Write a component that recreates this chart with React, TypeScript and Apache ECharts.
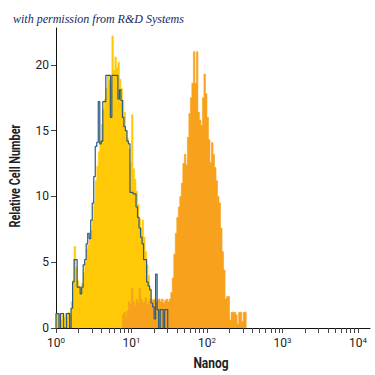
import React, { useEffect, useRef } from "react";
import * as echarts from "echarts";

// histogram channel width, in decades (log10 units)
const BIN = 0.02;

// isotype control (yellow filled)
const YELLOW_START = 0;
const YELLOW = [
  1.1, 1.1, 1.0, 0.6, 1.0, 0.8, 1.1, 0.9, 1.2, 1.0,
  2.0, 3.6, 6.2, 4.6, 3.6, 3.2, 3.0, 3.4, 4.2, 5.0,
  6.0, 6.3, 6.8, 7.4, 8.2, 9.5, 11.2, 12.3, 13.4, 14.2,
  15.5, 16.6, 17.4, 18.2, 19.2, 18.8, 18.4, 22.2, 19.6, 20.6,
  19.8, 20.2, 18.9, 18.2, 17.3, 16.4, 15.0, 14.4, 13.6, 12.6,
  16.2, 12.1, 11.3, 10.4, 9.4, 8.3, 7.6, 8.2, 6.9, 5.8,
  4.8, 4.0, 3.0, 2.2, 1.6, 1.2, 1.0, 0.8,
];

// unstained control (blue outline)
const BLUE_START = 0;
const BLUE = [
  1.1, 1.1, 0, 1.1, 1.1, 0, 0, 1.1, 1.1, 0,
  1.5, 3.5, 5.2, 5.2, 3.1, 3.1, 2.6, 3.1, 4.8, 5.2,
  6.4, 7.2, 6.8, 8.2, 9.5, 11.5, 13.8, 14.1, 17.2, 14.0,
  14.2, 17.2, 17.2, 19.2, 19.2, 19.2, 16.0, 19.2, 19.2, 19.2,
  19.2, 17.4, 18.1, 17.3, 16.0, 15.3, 15.0, 14.2, 14.0, 10.3,
  10.3, 10.2, 10.2, 9.2, 8.4, 7.6, 6.9, 6.4, 5.2, 5.2,
  3.5, 3.2, 2.9, 1.9, 1.6, 0.7, 4.1, 1.4, 0, 1.4,
  1.4, 0, 1.4, 1.4,
];

// Nanog stained (orange filled)
const ORANGE_START = 0.88;
const ORANGE = [
  1.0, 1.2, 0.8, 1.3, 2.0, 1.8, 3.0, 2.0, 1.7, 2.2,
  1.9, 3.0, 2.2, 1.9, 2.0, 2.3, 1.8, 2.0, 2.2, 1.9,
  2.1, 2.2, 1.9, 2.1, 2.2, 2.0, 2.2, 1.9, 2.1, 2.2,
  2.0, 2.2, 2.7, 3.8, 5.6, 7.2, 8.4, 9.2, 10.0, 11.0,
  12.5, 13.2, 12.4, 14.5, 16.3, 17.5, 18.6, 21.0, 18.6, 21.0,
  16.4, 15.8, 15.4, 17.5, 19.3, 17.8, 16.0, 14.3, 12.6, 14.1,
  13.2, 12.2, 11.2, 10.0, 9.5, 7.6, 5.8, 4.4, 2.2, 2.4,
  2.4, 0.6, 1.2, 1.2, 1.2, 1.0, 0.3, 1.2, 1.2, 0.5,
  1.2, 1.2,
];

const X_MAX = 4.16;
const Y_MAX = 22.8;
const DECADES = [0, 1, 2, 3, 4];
const MINOR_MULT = [2, 3, 4, 5, 6, 7, 8, 9];
const Y_TICKS = [0, 5, 10, 15, 20];

const TITLE = "with permission from R&D Systems";
const X_NAME = "Nanog";
const Y_NAME = "Relative Cell Number";

const FONT = "Roboto, 'Liberation Sans', sans-serif";

function stepData(start: number, vals: number[]) {
  const pts: number[][] = [[start, 0]];
  vals.forEach((v, i) => pts.push([start + i * BIN, v]));
  pts.push([start + vals.length * BIN, 0]);
  return pts;
}

const xTicks: number[] = [];
DECADES.forEach((d) => {
  xTicks.push(d);
  if (d < 4) MINOR_MULT.forEach((m) => xTicks.push(d + Math.log10(m)));
});

export default function App() {
  const ref = useRef<HTMLDivElement>(null);
  useEffect(() => {
    const chart = echarts.init(ref.current!, null, { renderer: "svg" });
    chart.setOption({
      animation: false,
      backgroundColor: "#ffffff",
      title: {
        text: TITLE,
        left: 8,
        top: 8,
        textStyle: {
          fontFamily: "'Liberation Serif', 'DejaVu Serif', serif",
          fontStyle: "italic",
          fontWeight: "normal",
          fontSize: 12,
          color: "#1b1f5c",
        },
      },
      graphic: [
        {
          type: "text",
          x: 15,
          y: 176,
          rotation: Math.PI / 2,
          scaleX: 0.78,
          style: {
            text: Y_NAME,
            fontFamily: FONT,
            fontWeight: "bold",
            fontSize: 14,
            fill: "#222",
            align: "center",
            verticalAlign: "middle",
          },
        },
        {
          type: "text",
          x: 211,
          y: 362,
          scaleX: 0.8,
          style: {
            text: X_NAME,
            fontFamily: FONT,
            fontWeight: "bold",
            fontSize: 15,
            fill: "#222",
            align: "center",
            verticalAlign: "middle",
          },
        },
      ],
      grid: { left: 56, right: 5, top: 28, bottom: 47, containLabel: false },
      xAxis: {
        type: "value",
        min: 0,
        max: X_MAX,
        axisLine: { show: true, lineStyle: { color: "#111", width: 1 } },
        axisTick: { show: true, length: 5, customValues: xTicks, lineStyle: { color: "#444" } },
        splitLine: { show: false },
        axisLabel: {
          customValues: DECADES,
          margin: 8,
          formatter: (v: number) => `{a|10}{b|${Math.round(v)}}`,
          rich: {
            a: { fontFamily: FONT, fontSize: 12, color: "#222" },
            b: { fontFamily: FONT, fontSize: 8, color: "#222", padding: [0, 0, 6, 0] },
          },
        },
      },
      yAxis: {
        type: "value",
        min: 0,
        max: Y_MAX,
        axisLine: { show: true, lineStyle: { color: "#111", width: 1 } },
        axisTick: { show: true, length: 5, customValues: Y_TICKS, lineStyle: { color: "#444" } },
        splitLine: { show: false },
        axisLabel: {
          customValues: Y_TICKS,
          margin: 7,
          fontFamily: FONT,
          fontSize: 12,
          color: "#222",
        },
      },
      series: [
        {
          name: "isotype",
          type: "line",
          step: "end",
          data: stepData(YELLOW_START, YELLOW),
          showSymbol: false,
          lineStyle: { width: 0.6, color: "#ffc907" },
          areaStyle: { color: "#ffc907", opacity: 1 },
          z: 1,
        },
        {
          name: "Nanog",
          type: "line",
          step: "end",
          data: stepData(ORANGE_START, ORANGE),
          showSymbol: false,
          lineStyle: { width: 0.6, color: "#f7a11c" },
          areaStyle: { color: "#f7a11c", opacity: 1 },
          z: 2,
        },
        {
          name: "control",
          type: "line",
          step: "end",
          data: stepData(BLUE_START, BLUE),
          showSymbol: false,
          lineStyle: { width: 1.2, color: "#2b5c86" },
          z: 3,
        },
      ],
    });
    return () => chart.dispose();
  }, []);
  return <div ref={ref} style={{ position: "fixed", left: 0, top: 0, width: 375, height: 375 }} />;
}
